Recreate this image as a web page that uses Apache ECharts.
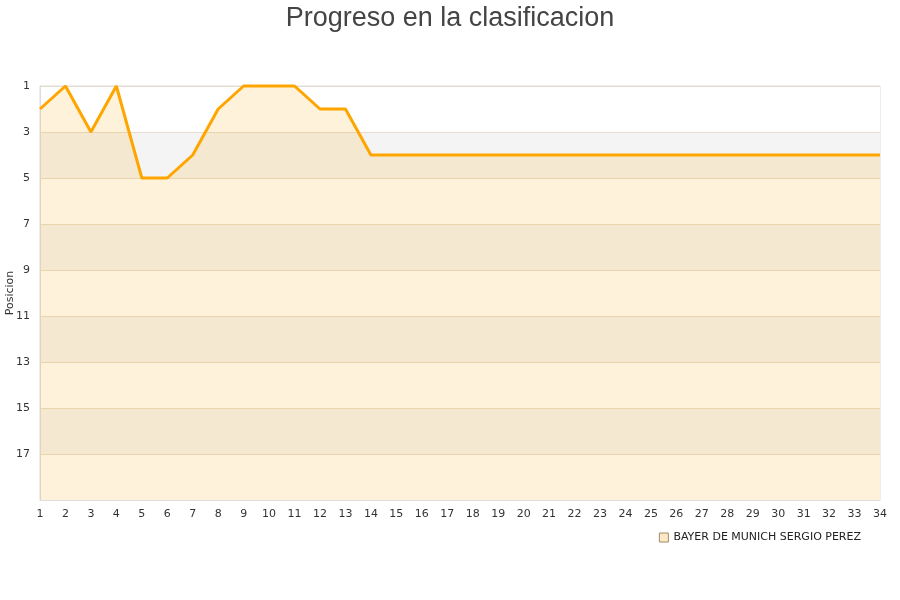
<!DOCTYPE html>
<html>
<head>
<meta charset="utf-8">
<script src="https://cdn.jsdelivr.net/npm/echarts@6/dist/echarts.min.js"></script>
<style>html,body{margin:0;padding:0;background:#fff}#c{width:900px;height:600px}</style>
</head>
<body>
<div id="c"></div>
<script>
const titleText = "Progreso en la clasificacion";
const seriesName = "BAYER DE MUNICH SERGIO PEREZ";
const jornadas = ["1","2","3","4","5","6","7","8","9","10","11","12","13","14","15","16","17","18","19","20","21","22","23","24","25","26","27","28","29","30","31","32","33","34"];
const posiciones = [2,1,3,1,5,5,4,2,1,1,1,2,2,4,4,4,4,4,4,4,4,4,4,4,4,4,4,4,4,4,4,4,4,4];
const yLabelMax = 17;

const chart = echarts.init(document.getElementById('c'), null, {renderer:'canvas'});
chart.setOption({
  animation: false,
  title: {
    text: titleText, left: 'center', top: 0,
    textStyle: {fontFamily: 'Liberation Sans, Arial, sans-serif', fontSize: 27, fontWeight: 'normal', color: '#444'}
  },
  grid: {left: 40, right: 20, top: 86, bottom: 100, containLabel: false, outerBoundsMode: 'none',
    show: true, borderColor: '#ddd', borderWidth: 1, backgroundColor: 'transparent'},
  legend: {
    right: 34, top: 527, icon: 'rect', itemWidth: 9, itemHeight: 9, itemGap: 10,
    textStyle: {fontFamily: 'DejaVu Sans, sans-serif', fontSize: 11, color: '#222'},
    data: [{name: seriesName, itemStyle: {color: '#fde9c5', borderColor: '#a08a6a', borderWidth: 1}}]
  },
  xAxis: {
    type: 'category', data: jornadas, boundaryGap: false,
    axisLine: {show: true, lineStyle: {color: '#ddd'}},
    axisTick: {show: false},
    axisLabel: {fontFamily: 'DejaVu Sans, sans-serif', fontSize: 11, color: '#333', margin: 9, interval: 0},
    splitLine: {show: false}
  },
  yAxis: {
    type: 'value', inverse: true, min: 1, max: 19, interval: 2,
    name: 'Posicion', nameLocation: 'middle', nameGap: 24, nameMoveOverlap: false,
    nameTextStyle: {fontFamily: 'DejaVu Sans, sans-serif', fontSize: 11, color: '#333'},
    axisLine: {show: true, lineStyle: {color: '#ddd'}},
    axisTick: {show: false},
    axisLabel: {fontFamily: 'DejaVu Sans, sans-serif', fontSize: 11, color: '#333', margin: 10,
      formatter: v => (v <= yLabelMax ? String(v) : '')},
    splitLine: {show: true, lineStyle: {color: '#e6dccb', width: 1}},
    splitArea: {show: true, areaStyle: {color: ['#ffffff', '#f4f4f4']}}
  },
  series: [{
    name: seriesName, type: 'line', data: posiciones,
    symbol: 'none', clip: false,
    lineStyle: {color: '#ffa500', width: 3},
    itemStyle: {color: '#ffa500'},
    areaStyle: {color: 'rgba(255,165,0,0.2)', origin: 'end'}
  }]
});
</script>
</body>
</html>
